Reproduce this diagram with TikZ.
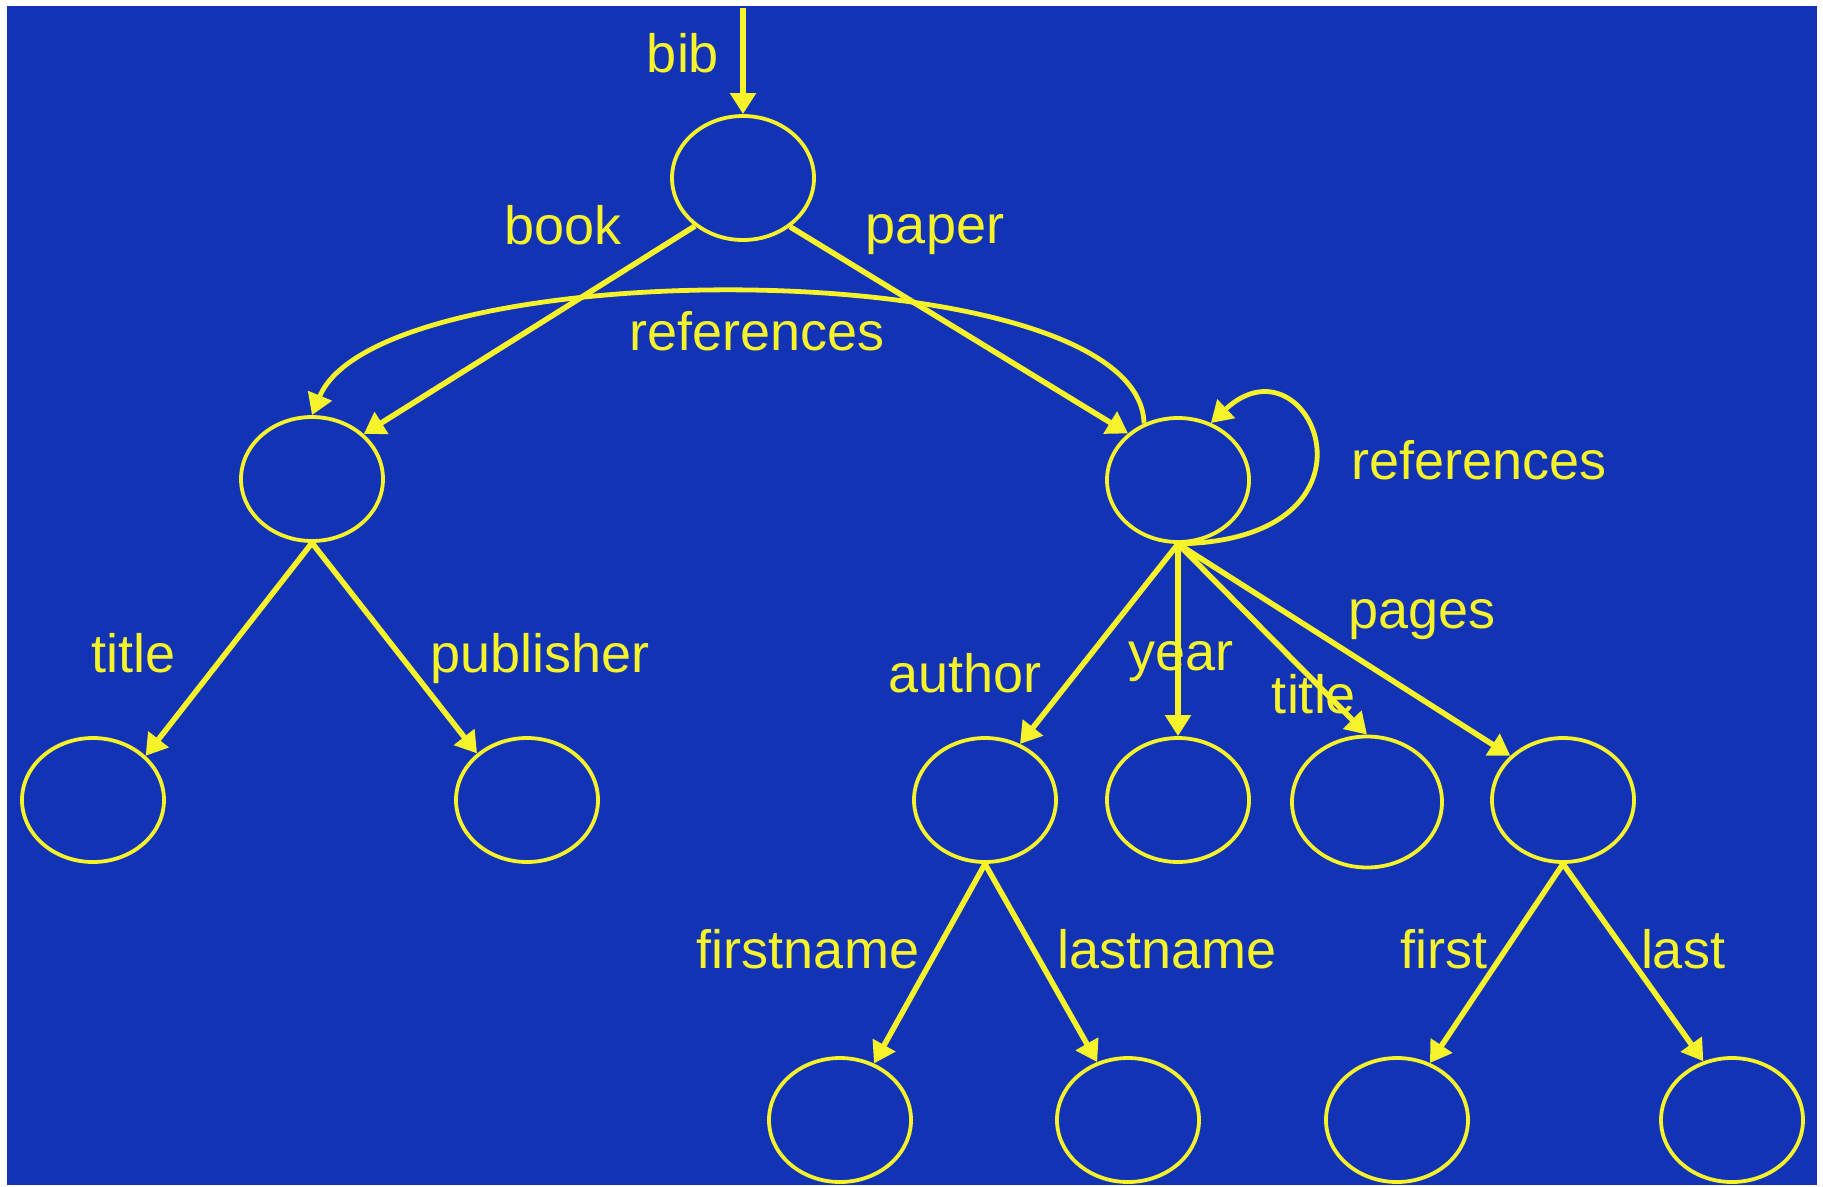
\documentclass[tikz,border=0pt]{standalone}
\usepackage{fontspec}
\setmainfont{Liberation Sans}
\usetikzlibrary{arrows.meta,shapes.geometric}

\definecolor{bgblue}{RGB}{18,51,180}
\definecolor{lineyellow}{RGB}{246,243,42}

\tikzset{
  obj/.style={draw=lineyellow, line width=3.8pt, ellipse, inner sep=0pt,
    minimum width=142pt, minimum height=124pt},
  bigobj/.style={obj, minimum width=150pt, minimum height=131pt},
  edge/.style={draw=lineyellow, line width=5.5pt,
    -{Triangle[length=21pt,width=25pt]}},
  arc/.style={edge, line width=4.8pt},
  lbl/.style={text=lineyellow, inner sep=0pt, anchor=base,
    font=\fontsize{54}{60}\selectfont},
}

\begin{document}
\begin{tikzpicture}[x=1pt, y=-1pt]
  % page and panel
  \fill[white] (0,0) rectangle (1823,1186);
  \useasboundingbox (0,0) rectangle (1823,1186);
  \fill[bgblue] (7,6) rectangle (1817,1185);

  % objects
  \node[obj] (root)   at (743,178)  {};
  \node[obj] (book)   at (312,479)  {};
  \node[obj] (paper)  at (1178,480) {};
  \node[obj] (btitle) at (93,800)   {};
  \node[obj] (bpub)   at (527,800)  {};
  \node[obj] (author) at (985,800)  {};
  \node[obj] (year)   at (1178,800) {};
  \node[bigobj] (ptitle) at (1367,802) {};
  \node[obj] (pages)  at (1563,800) {};
  \node[obj] (fname)  at (840,1120) {};
  \node[obj] (lname)  at (1128,1120) {};
  \node[obj] (first)  at (1397,1120) {};
  \node[obj] (last)   at (1732,1120) {};

  \coordinate (bibtop) at (743,8);

  % tree edges
  \draw[edge] (bibtop) -- (root.north);
  \draw[edge] (root.225) -- (book.41);
  \draw[edge] (root.314) -- (paper.137);
  \draw[edge] (book.south) -- (btitle.40);
  \draw[edge] (book.south) -- (bpub.137);
  \draw[edge] (paper.south) -- (author.58);
  \draw[edge] (paper.south) -- (year.north);
  \draw[edge] (paper.south) -- (ptitle.north);
  \draw[edge] (paper.south) -- (pages.140);
  \draw[edge] (author.south) -- (fname.59);
  \draw[edge] (author.south) -- (lname.118);
  \draw[edge] (pages.south) -- (first.60);
  \draw[edge] (pages.south) -- (last.116);

  % reference edges
  \draw[arc] (paper.121) .. controls (1140,250) and (380,250) .. (book.north);
  \draw[arc] (paper.south) .. controls (1400,540) and (1310,330) .. (paper.60);

  % edge labels
  \node[lbl] (l-bib)   at (683,72)   {bib};
  \node[lbl] (l-book)  at (563,244)  {book};
  \node[lbl] (l-paper) at (935,243)  {paper};
  \node[lbl] (l-ref1)  at (757,350)  {references};
  \node[lbl] (l-ref2)  at (1479,479) {references};
  \node[lbl] (l-btit)  at (134,672)  {title};
  \node[lbl] (l-pub)   at (540,672)  {publisher};
  \node[lbl] (l-auth)  at (965,692)  {author};
  \node[lbl] (l-year)  at (1181,670) {year};
  \node[lbl] (l-ptit)  at (1314,713) {title};
  \node[lbl] (l-pages) at (1422,628) {pages};
  \node[lbl] (l-fn)    at (808,968)  {firstname};
  \node[lbl] (l-ln)    at (1167,968) {lastname};
  \node[lbl] (l-first) at (1444,968) {first};
  \node[lbl] (l-last)  at (1683,968) {last};
\end{tikzpicture}
\end{document}
